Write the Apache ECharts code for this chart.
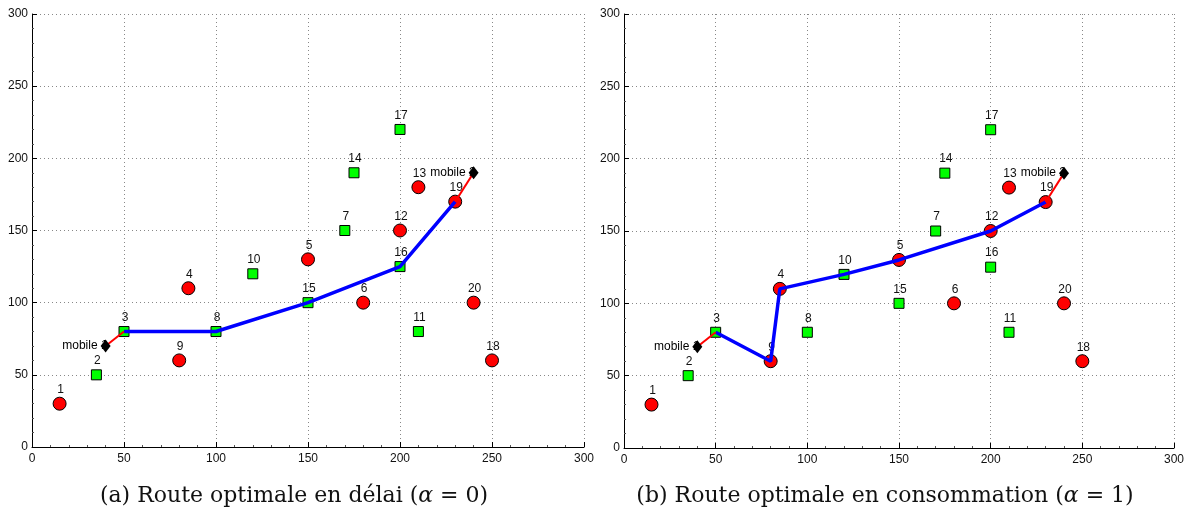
<!DOCTYPE html>
<html>
<head>
<meta charset="utf-8">
<script src="https://cdn.jsdelivr.net/npm/echarts@6/dist/echarts.min.js"></script>
<style>
html,body{margin:0;padding:0;background:#fff;}
#chart{width:1194px;height:513px;}
</style>
</head>
<body>
<div id="chart"></div>
<script>
// ---- data ----
const nodeIds   = [1,2,3,4,5,6,7,8,9,10,11,12,13,14,15,16,17,18,19,20];
const nodeX     = [15,35,50,85,150,180,170,100,80,120,210,200,210,175,150,200,200,250,230,240];
const nodeY     = [30,50,80,110,130,100,150,80,60,120,80,150,180,190,100,125,220,60,170,100];
const nodeType  = ['c','s','s','c','c','c','s','s','c','s','s','c','c','s','s','s','s','c','c','c'];
const mobileNames = ['mobile 1','mobile 2'];
const mobileX   = [40,240];
const mobileY   = [70,190];
const routeA    = [3,8,15,16,19];          // délai (alpha = 0)
const routeB    = [3,9,4,10,5,12,19];      // consommation (alpha = 1)
const linkStart = [0,3];                   // mobile 1 -> node 3
const linkEnd   = [19,1];                  // node 19 -> mobile 2
const axisTicks = [0,50,100,150,200,250,300];
const titles    = ['(a) Route optimale en délai ({i|α} = 0)',
                   '(b) Route optimale en consommation ({i|α} = 1)'];

// ---- helpers ----
function nodePts(type){
  const out=[];
  nodeIds.forEach((id,i)=>{ if(nodeType[i]===type) out.push({value:[nodeX[i],nodeY[i]], name:String(id)}); });
  return out;
}
function routePts(route){ return route.map(id=>[nodeX[id-1],nodeY[id-1]]); }
const mobilePts = mobileNames.map((n,i)=>({value:[mobileX[i],mobileY[i]], name:n}));
const link1 = [[mobileX[0],mobileY[0]],[nodeX[linkStart[1]-1],nodeY[linkStart[1]-1]]];
const link2 = [[nodeX[linkEnd[0]-1],nodeY[linkEnd[0]-1]],[mobileX[1],mobileY[1]]];

const font = '"Liberation Sans", Arial, Helvetica, sans-serif';
const numLabel = {show:true, position:'inside', offset:[1,-14], formatter:'{b}', color:'#111', fontSize:12, fontFamily:font};

function axis(idx, isX){
  return {
    type:'value', gridIndex:idx, min:0, max:300, interval:50,
    axisLine:{show:true, onZero:false, lineStyle:{color:'#000', width:1}},
    axisTick:{show:true, inside:true, length:5, lineStyle:{color:'#000'}},
    minorTick:{show:true, splitNumber:5, length:2, lineStyle:{color:'#555'}},
    axisLabel:{color:'#111', fontSize:12, fontFamily:font, margin: isX?6:4},
    splitLine:{show:true, lineStyle:{color:'#888', type:[1,3], width:1}}
  };
}

function seriesFor(idx, route){
  return [
    {type:'scatter', xAxisIndex:idx, yAxisIndex:idx, z:2, symbol:'circle', symbolSize:13,
     itemStyle:{color:'#ff0000', borderColor:'#000', borderWidth:1, opacity:1},
     label:numLabel, data:nodePts('c')},
    {type:'scatter', xAxisIndex:idx, yAxisIndex:idx, z:2, symbol:'rect', symbolSize:10,
     itemStyle:{color:'#00ff00', borderColor:'#000', borderWidth:1, opacity:1},
     label:numLabel, data:nodePts('s')},
    {type:'scatter', xAxisIndex:idx, yAxisIndex:idx, z:1, symbol:'circle', symbolSize:2,
     itemStyle:{color:'rgba(255,255,255,0)', borderWidth:0},
     label:{show:true, position:'inside', align:'right', verticalAlign:'middle', offset:[2,0], formatter:'{b}', color:'#000', opacity:1, fontSize:12, fontFamily:font},
     data:mobilePts},
    {type:'line', xAxisIndex:idx, yAxisIndex:idx, z:3, symbol:'none', animation:false,
     lineStyle:{color:'#0000ff', width:3.5}, data:routePts(route)},
    {type:'line', xAxisIndex:idx, yAxisIndex:idx, z:3, symbol:'none', animation:false,
     lineStyle:{color:'#ff0000', width:2}, data:link1},
    {type:'line', xAxisIndex:idx, yAxisIndex:idx, z:3, symbol:'none', animation:false,
     lineStyle:{color:'#ff0000', width:2}, data:link2},
    {type:'scatter', xAxisIndex:idx, yAxisIndex:idx, z:5, symbol:'diamond', symbolSize:[10,13],
     itemStyle:{color:'#000', opacity:1}, data:mobilePts.map(p=>p.value)}
  ];
}

const serif = '"DejaVu Serif", "Liberation Serif", serif';
const titleStyle = {color:'#111', fontSize:22, fontWeight:'normal', fontFamily:serif,
  rich:{i:{fontStyle:'italic', fontSize:22, fontFamily:serif, color:'#111'}}};

const chart = echarts.init(document.getElementById('chart'), null, {renderer:'canvas'});
chart.setOption({
  animation:false,
  backgroundColor:'#fff',
  title:[
    {text:titles[0], left:289, top:480, textAlign:'center', textStyle:titleStyle},
    {text:titles[1], left:880, top:480, textAlign:'center', textStyle:titleStyle}
  ],
  grid:[
    {left:32, top:14, width:552, height:433},
    {left:624, top:14, width:550, height:434}
  ],
  xAxis:[axis(0,true), axis(1,true)],
  yAxis:[axis(0,false), axis(1,false)],
  series:[...seriesFor(0, routeA), ...seriesFor(1, routeB)]
});
</script>
</body>
</html>
